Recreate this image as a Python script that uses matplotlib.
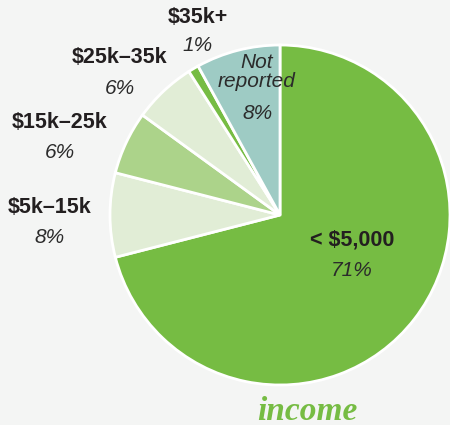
import matplotlib.pyplot as plt

# data
categories = ['< $5,000', '$5k–15k', '$15k–25k', '$25k–35k', '$35k+', 'Not reported']
shares = [71, 8, 6, 6, 1, 8]
colors = ['#76bc43', '#e1edd6', '#acd38a', '#e1edd6', '#76bc43', '#9ecbc4']

bg = '#f4f5f4'
fig = plt.figure(figsize=(4.5, 4.25), dpi=100, facecolor=bg)
ax = fig.add_axes([0, 0, 1, 1])
ax.set_facecolor(bg)

ax.pie(shares, colors=colors, startangle=90, counterclock=False,
       center=(280, 210), radius=170, frame=True,
       wedgeprops=dict(edgecolor='white', linewidth=2))
ax.set_xlim(0, 450)
ax.set_ylim(0, 425)
ax.set_aspect('equal')
ax.axis('off')

# label layout (x, name y, percent y) in pixel coords
label_pos = {
    '< $5,000': (352, 185, 155),
    '$5k–15k': (50, 218, 188),
    '$15k–25k': (60, 303, 273),
    '$25k–35k': (120, 368, 337),
    '$35k+': (198, 408, 380),
}
fs = 15
for cat, val in zip(categories, shares):
    if cat == 'Not reported':
        ax.text(257, 353, 'Not\nreported', ha='center', va='center', fontsize=fs,
                style='italic', color='#2b2b2b', family='Liberation Sans', linespacing=0.95)
        ax.text(258, 312, f'{val}%', ha='center', va='center', fontsize=fs,
                style='italic', color='#2b2b2b', family='Liberation Sans')
        continue
    x, y, yp = label_pos[cat]
    ax.text(x, y, cat, ha='center', va='center', fontsize=15.5, fontweight='bold',
            color='#231f20', family='Liberation Sans')
    ax.text(x, yp, f'{val}%', ha='center', va='center', fontsize=fs,
            style='italic', color='#2b2b2b', family='Liberation Sans')

ax.text(307, 14, 'income', ha='center', va='center', fontsize=24, fontweight='bold',
        style='italic', color='#76bc43', family='Liberation Serif')

fig.savefig('out.png', dpi=100, facecolor=bg)
